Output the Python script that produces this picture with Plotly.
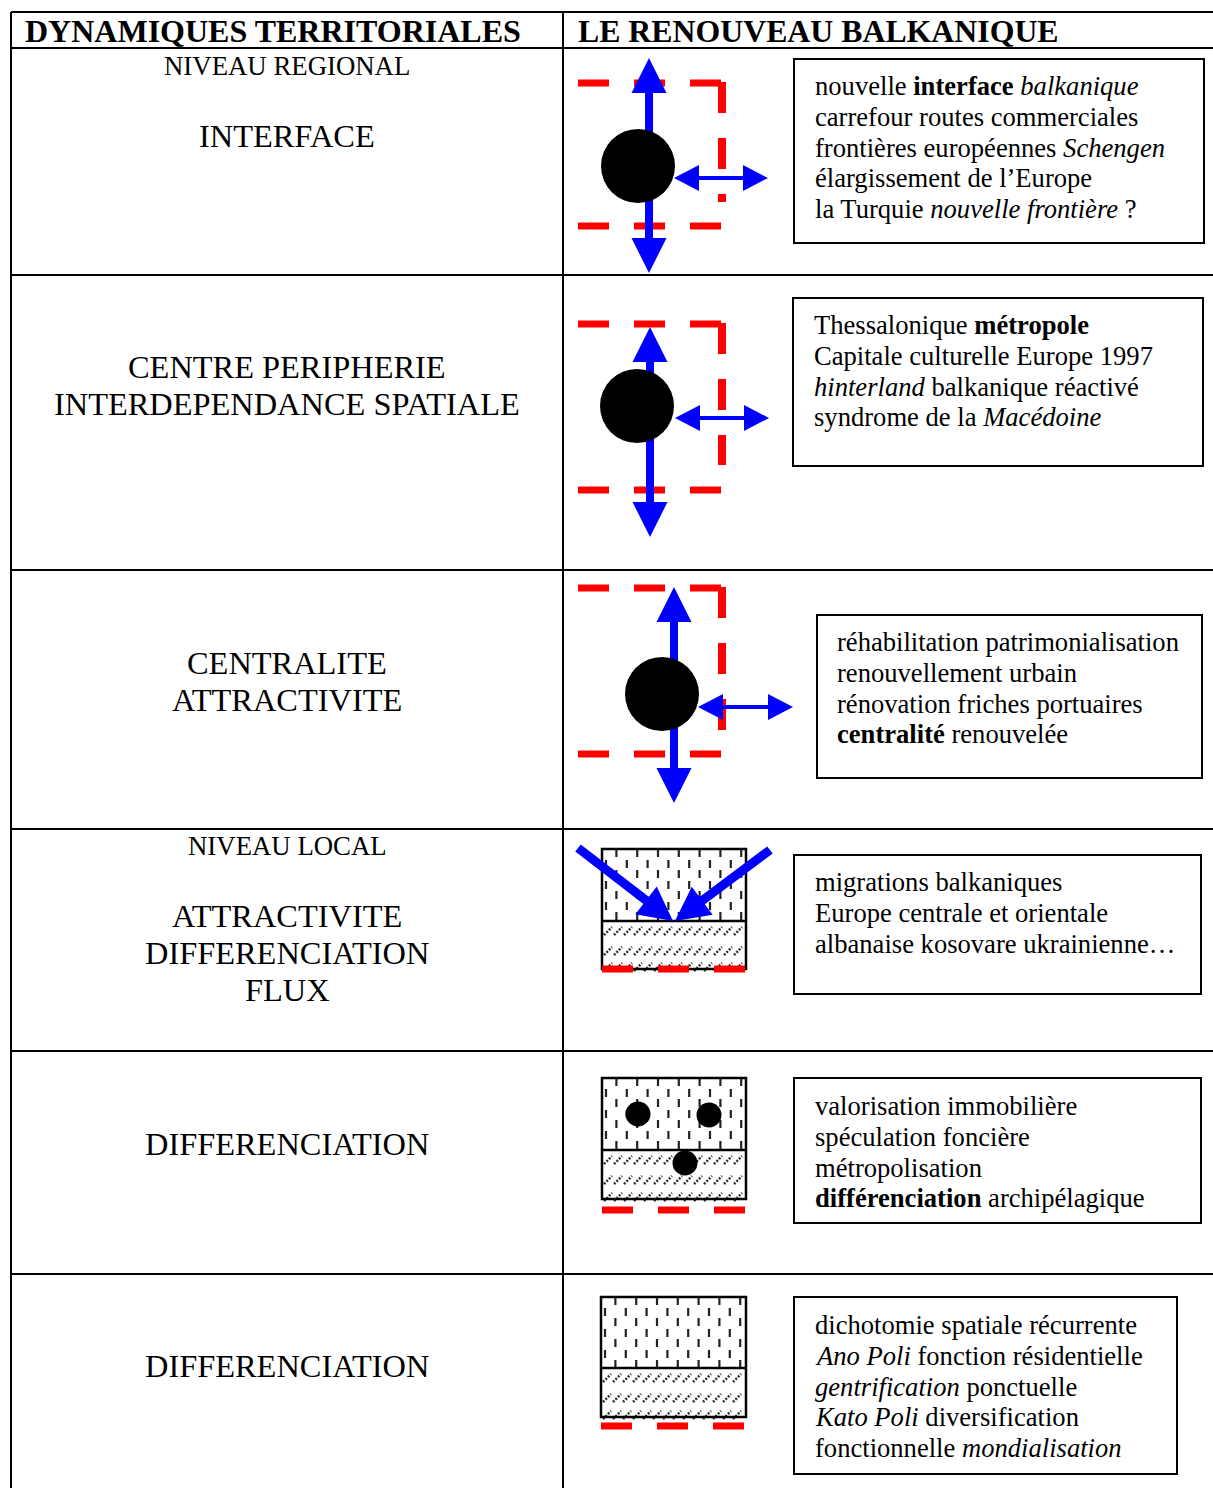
"""
Tableau : dynamiques territoriales / le renouveau balkanique.
Schema dessine avec plotly (formes + annotations).
"""

import numpy as np
import plotly.graph_objects as go

#### Textes du tableau
header_left = "DYNAMIQUES TERRITORIALES"
header_right = "LE RENOUVEAU BALKANIQUE"
level_labels = ["NIVEAU REGIONAL", "NIVEAU LOCAL"]
row_labels = [
    ["INTERFACE"],
    ["CENTRE PERIPHERIE", "INTERDEPENDANCE SPATIALE"],
    ["CENTRALITE", "ATTRACTIVITE"],
    ["ATTRACTIVITE", "DIFFERENCIATION", "FLUX"],
    ["DIFFERENCIATION"],
    ["DIFFERENCIATION"],
]
box_lines = [
    ["nouvelle <b>interface</b> <i>balkanique</i>",
     "carrefour routes commerciales",
     "frontières européennes <i>Schengen</i>",
     "élargissement de l’Europe",
     "la Turquie <i>nouvelle frontière</i> ?"],
    ["Thessalonique <b>métropole</b>",
     "Capitale culturelle Europe 1997",
     "<i>hinterland</i> balkanique réactivé",
     "syndrome de la <i>Macédoine</i>"],
    ["réhabilitation patrimonialisation",
     "renouvellement urbain",
     "rénovation friches portuaires",
     "<b>centralité</b> renouvelée"],
    ["migrations balkaniques",
     "Europe centrale et orientale",
     "albanaise kosovare ukrainienne…"],
    ["valorisation immobilière",
     "spéculation foncière",
     "métropolisation",
     "<b>différenciation</b> archipélagique"],
    ["dichotomie spatiale récurrente",
     "<i>Ano Poli</i> fonction résidentielle",
     "<i>gentrification</i> ponctuelle",
     "<i>Kato Poli</i> diversification",
     "fonctionnelle <i>mondialisation</i>"],
]

#### Mise en page (pixels)
W, H = 1213, 1488
X_LEFT, X_MID = 11, 563
Y_TOP = 12
row_edges = [48, 275, 570, 829, 1051, 1274]
label_y0 = [136, 367, 663, 916, 1144, 1366]
LABEL_STEP = 37
level_y = [66, 846]
box_rects = [(794, 59, 1204, 243), (793, 298, 1203, 466), (817, 615, 1202, 778),
             (794, 855, 1201, 994), (794, 1078, 1201, 1223), (794, 1297, 1177, 1474)]
box_text = [(813, 86), (812, 325), (835, 642), (813, 882), (813, 1106), (813, 1325)]
BOX_STEP = 30.8

# niveau regional : noeud + cadre + fleches
node_c = [(638, 166), (637, 406), (662, 694)]
NODE_R = 37
frame_y = [(83, 226), (324, 490), (588, 754)]
frame_right_end = [202, 465, 730]
FRAME_X = (578, 722)
varrow = [(649, 58, 273), (650, 327, 537), (674, 587, 803)]
harrow = [(178, 674, 768), (418, 675, 769), (707, 698, 793)]

# niveau local : blocs hachures
block_x = [(602, 746), (602, 746), (601, 746)]
block_y = [(849, 921, 969), (1078, 1150, 1199), (1297, 1368, 1417)]
red_y = [969, 1210, 1426]
flux = [((578, 848), (673, 921)), ((770, 850), (675, 921))]
dots = [(638, 1114), (709, 1115), (685, 1163)]
DOT_R = 12.5

FONT = "Liberation Serif, Times New Roman, serif"
BLUE = "#0000ff"
RED = "#ff0000"


def arrow(x0, y0, x1, y1, lw, hl, hw, double=False):
    """fleche pleine (tige + triangle), eventuellement double"""
    a = np.array([x0, y0], float)
    b = np.array([x1, y1], float)
    u = (b - a) / np.hypot(*(b - a))
    p = np.array([-u[1], u[0]])
    s = a + u * hl * 0.9 if double else a
    e = b - u * hl * 0.9
    out = [dict(type="line", x0=s[0], y0=s[1], x1=e[0], y1=e[1],
                line=dict(color=BLUE, width=lw))]
    heads = [(b, u)] + ([(a, -u)] if double else [])
    for tip, d in heads:
        base = tip - d * hl
        c1 = base + p * hw / 2
        c2 = base - p * hw / 2
        path = f"M {tip[0]},{tip[1]} L {c1[0]},{c1[1]} L {c2[0]},{c2[1]} Z"
        out.append(dict(type="path", path=path, fillcolor=BLUE, line=dict(width=0)))
    return out


def dash_pattern(x0, x1, y0, y1):
    """tirets verticaux en quinconce"""
    xs, ys = [], []
    for k, cx in enumerate(np.arange(x0 + 4, x1 - 2, 10.4)):
        start = y0 + (0 if k % 2 else 11)
        for ya in np.arange(start, y1, 21):
            yb = min(ya + 8, y1 - 1)
            if yb - ya < 2:
                continue
            xs += [cx, cx, None]
            ys += [ya, yb, None]
    return xs, ys


def hatch_pattern(x0, x1, rows):
    """petits traits obliques"""
    xs, ys = [], []
    for ry in rows:
        for hx in np.arange(x0 + 2, x1 - 8, 10):
            xs += [hx, hx + 8, None]
            ys += [ry + 4, ry - 4, None]
    return xs, ys


fig = go.Figure()
shapes = []
annots = []

### tableau
line_k = dict(color="black", width=2)
shapes.append(dict(type="line", x0=X_LEFT, x1=W, y0=Y_TOP, y1=Y_TOP, line=line_k))
for ry in row_edges:
    shapes.append(dict(type="line", x0=X_LEFT, x1=W, y0=ry, y1=ry, line=line_k))
shapes.append(dict(type="line", x0=X_LEFT, x1=X_LEFT, y0=Y_TOP, y1=H, line=line_k))
shapes.append(dict(type="line", x0=X_MID, x1=X_MID, y0=Y_TOP, y1=H, line=line_k))

annots.append(dict(x=273, y=31, text=f"<b>{header_left}</b>", xanchor="center",
                   font=dict(size=32)))
annots.append(dict(x=576, y=31, text=f"<b>{header_right}</b>", xanchor="left",
                   font=dict(size=31.8)))
for txt, ly in zip(level_labels, level_y):
    annots.append(dict(x=287, y=ly, text=txt, xanchor="center", font=dict(size=26.8)))
for lines, y0 in zip(row_labels, label_y0):
    for i, txt in enumerate(lines):
        annots.append(dict(x=287, y=y0 + i * LABEL_STEP, text=txt, xanchor="center",
                           font=dict(size=32.4)))

### encadres de texte
for (bx0, by0, bx1, by1), (tx, ty), lines in zip(box_rects, box_text, box_lines):
    shapes.append(dict(type="rect", x0=bx0, y0=by0, x1=bx1, y1=by1,
                       line=dict(color="black", width=2)))
    for i, txt in enumerate(lines):
        annots.append(dict(x=tx, y=ty + i * BOX_STEP, text=txt, xanchor="left",
                           font=dict(size=26.6)))

### niveau regional
red_dash = dict(color=RED, width=7, dash="31px,25px")
for (cx, cy), (ft, fb), fe, (vx, vt, vb), (hy, hx0, hx1) in zip(
        node_c, frame_y, frame_right_end, varrow, harrow):
    shapes.append(dict(type="line", x0=FRAME_X[0], x1=FRAME_X[1], y0=ft, y1=ft, line=red_dash))
    shapes.append(dict(type="line", x0=FRAME_X[0], x1=FRAME_X[1], y0=fb, y1=fb, line=red_dash))
    shapes.append(dict(type="line", x0=FRAME_X[1], x1=FRAME_X[1], y0=ft - 1, y1=fe,
                       line=dict(color=RED, width=8, dash="31px,25px")))
    shapes += arrow(vx, vt, vx, vb, 8, 35, 35, double=True)
    shapes.append(dict(type="circle", x0=cx - NODE_R, x1=cx + NODE_R,
                       y0=cy - NODE_R, y1=cy + NODE_R, fillcolor="black",
                       line=dict(width=0)))
    shapes += arrow(hx0, hy, hx1, hy, 4, 25, 26, double=True)

### niveau local
for (bx0, bx1), (bt, bm, bb), ry in zip(block_x, block_y, red_y):
    dx, dy = dash_pattern(bx0, bx1, bt, bm)
    fig.add_trace(go.Scatter(x=dx, y=dy, mode="lines", hoverinfo="skip",
                             line=dict(color="#222222", width=2.2)))
    hx, hy = hatch_pattern(bx0, bx1, [bm + 10, bm + 30, bb - 2])
    fig.add_trace(go.Scatter(x=hx, y=hy, mode="lines", hoverinfo="skip",
                             line=dict(color="#333333", width=2.5, dash="2px,1.5px")))
    shapes.append(dict(type="rect", x0=bx0, x1=bx1, y0=bt, y1=bb,
                       line=dict(color="black", width=2.5)))
    shapes.append(dict(type="line", x0=bx0, x1=bx1, y0=bm, y1=bm,
                       line=dict(color="black", width=2.5)))
    shapes.append(dict(type="line", x0=bx0, x1=bx1, y0=ry, y1=ry, line=red_dash))

for (p0, p1) in flux:
    shapes += arrow(p0[0], p0[1], p1[0], p1[1], 9, 34, 35)

for (cx, cy) in dots:
    shapes.append(dict(type="circle", x0=cx - DOT_R, x1=cx + DOT_R,
                       y0=cy - DOT_R, y1=cy + DOT_R, fillcolor="black",
                       line=dict(width=0)))

for a in annots:
    a.update(xref="x", yref="y", showarrow=False, yanchor="middle")

fig.update_layout(
    width=W, height=H,
    margin=dict(l=0, r=0, t=0, b=0),
    paper_bgcolor="white", plot_bgcolor="white",
    showlegend=False,
    font=dict(family=FONT, color="black"),
    xaxis=dict(range=[0, W], visible=False, fixedrange=True),
    yaxis=dict(range=[H, 0], visible=False, fixedrange=True),
    shapes=shapes,
    annotations=annots,
)

# pas de marge autour de la page, pas de barre d'outils
fig.write_html("out.html", config={"displayModeBar": False},
               post_script="document.body.style.margin='0';")
